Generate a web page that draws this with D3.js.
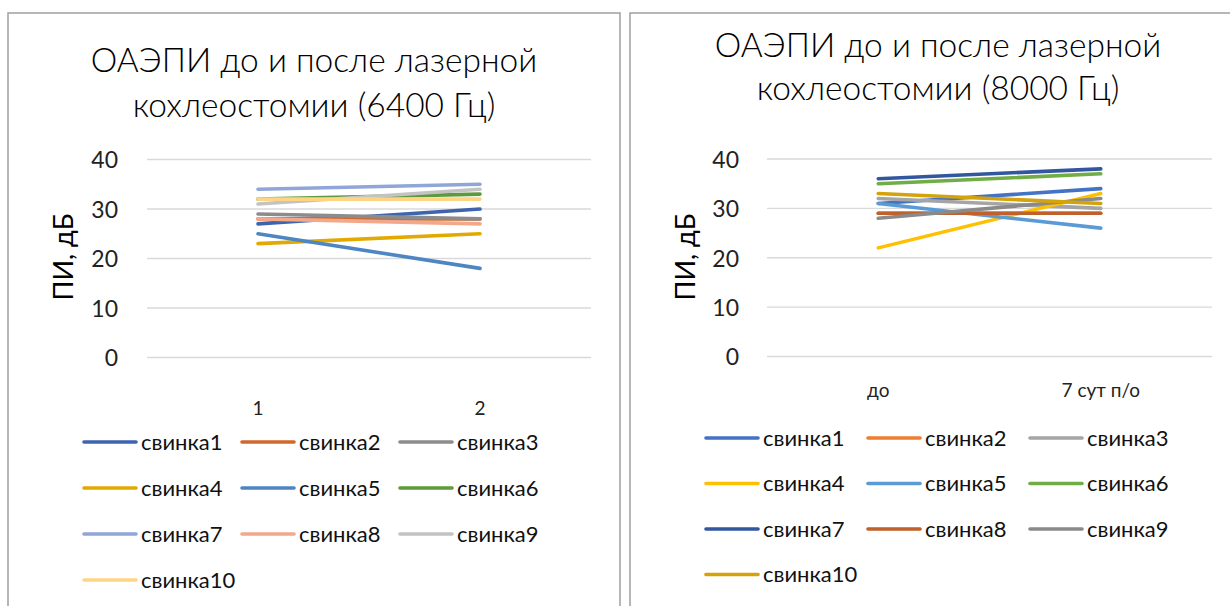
<!DOCTYPE html>
<html>
<head>
<meta charset="utf-8">
<script src="https://cdn.jsdelivr.net/npm/d3@7"></script>
<style>
  html, body { margin: 0; padding: 0; background: #fff; }
  svg { display: block; font-family: Lato, "Noto Sans", sans-serif; }
</style>
</head>
<body>
<svg id="chart" width="1230" height="606"></svg>
<script>
// Series names shared by both panels
const seriesNames = ["свинка1", "свинка2", "свинка3", "свинка4", "свинка5",
                     "свинка6", "свинка7", "свинка8", "свинка9", "свинка10"];

// 6400 Hz panel
const categories6400 = ["1", "2"];
const values6400 = [
  [27, 30], [28, 28], [29, 28], [23, 25], [25, 18],
  [32, 33], [34, 35], [28, 27], [31, 34], [32, 32]
];
const colors6400 = ["#3F64AE", "#D0692B", "#8C8C8C", "#E2AA00", "#4D86C2",
                    "#5E9A3A", "#91A6D8", "#F2A88A", "#C3C3C3", "#FFD584"];

// 8000 Hz panel
const categories8000 = ["до", "7 сут п/о"];
const values8000 = [
  [31, 34], [29, 29], [32, 30], [22, 33], [31, 26],
  [35, 37], [36, 38], [29, 29], [28, 32], [33, 31]
];
const colors8000 = ["#4472C4", "#ED7D31", "#A5A5A5", "#FFC000", "#5B9BD5",
                    "#70AD47", "#32579F", "#C0602A", "#8A8A8A", "#D4A20A"];

const yTicks = [0, 10, 20, 30, 40];

const svg = d3.select("#chart");

function drawPanel(cfg) {
  const g = svg.append("g");

  // frame
  g.append("path")
    .attr("d", `M${cfg.frame.x0},${cfg.frame.y1} V${cfg.frame.y0} H${cfg.frame.x1}` +
               (cfg.frame.rightEdge ? ` V${cfg.frame.y1}` : ""))
    .attr("fill", "none")
    .attr("stroke", "#A0A0A0")
    .attr("stroke-width", 1.5);

  // title
  const title = g.append("text")
    .attr("text-anchor", "middle")
    .attr("font-size", cfg.titleSize)
    .attr("font-weight", 300)
    .attr("fill", "#000");
  cfg.title.forEach((line, i) => {
    title.append("tspan")
      .attr("x", cfg.titleX)
      .attr("y", cfg.titleY + i * cfg.titleGap)
      .text(line);
  });

  const x = d3.scaleBand().domain(cfg.categories).range([cfg.plot.x0, cfg.plot.x1]);
  const y = d3.scaleLinear().domain([0, 40]).range([cfg.plot.y1, cfg.plot.y0]);

  // gridlines
  g.append("g")
    .selectAll("line")
    .data(yTicks)
    .join("line")
    .attr("x1", cfg.plot.x0).attr("x2", cfg.plot.x1)
    .attr("y1", d => y(d)).attr("y2", d => y(d))
    .attr("stroke", "#D9D9D9")
    .attr("stroke-width", 1.3);

  // y axis labels
  const yAxis = g.append("g")
    .attr("transform", `translate(${cfg.yLabelX},0)`)
    .call(d3.axisLeft(y).tickValues(yTicks).tickSize(0).tickPadding(0));
  yAxis.select(".domain").remove();
  yAxis.selectAll("text")
    .attr("font-size", 23)
    .attr("font-family", "Lato, sans-serif")
    .attr("fill", "#222")
    .attr("dy", "0.36em");

  // x axis labels
  const xAxis = g.append("g")
    .attr("transform", `translate(0,${cfg.xLabelY})`)
    .call(d3.axisBottom(x).tickSize(0).tickPadding(0));
  xAxis.select(".domain").remove();
  xAxis.selectAll("text")
    .attr("font-size", cfg.xLabelSize)
    .attr("font-family", "Lato, sans-serif")
    .attr("fill", "#222")
    .attr("dy", "0.36em");

  // axis title
  g.append("text")
    .attr("transform", `translate(${cfg.yTitleX},${cfg.yTitleY}) rotate(-90)`)
    .attr("text-anchor", "middle")
    .attr("dy", "0.36em")
    .attr("font-size", 27)
    .attr("fill", "#000")
    .text("ПИ, дБ");

  // series lines
  const line = d3.line()
    .x((d, i) => x(cfg.categories[i]) + x.bandwidth() / 2)
    .y(d => y(d));
  g.append("g")
    .selectAll("path")
    .data(cfg.values)
    .join("path")
    .attr("d", d => line(d))
    .attr("fill", "none")
    .attr("stroke", (d, i) => cfg.colors[i])
    .attr("stroke-width", 3.6)
    .attr("stroke-linecap", "round");

  // legend
  const leg = g.append("g");
  seriesNames.forEach((name, i) => {
    const col = i % 3, row = Math.floor(i / 3);
    const lx = cfg.legend.x + col * cfg.legend.colW;
    const ly = cfg.legend.y + row * cfg.legend.rowH;
    leg.append("line")
      .attr("x1", lx).attr("x2", lx + 52)
      .attr("y1", ly).attr("y2", ly)
      .attr("stroke", cfg.colors[i])
      .attr("stroke-width", 3.6)
      .attr("stroke-linecap", "round");
    leg.append("text")
      .attr("x", lx + 57)
      .attr("y", ly)
      .attr("dy", "0.36em")
      .attr("font-size", 22)
      .attr("fill", "#111")
      .text(name);
  });
}

drawPanel({
  frame: { x0: 8, x1: 620, y0: 13, y1: 620, rightEdge: true },
  title: ["ОАЭПИ до и после лазерной", "кохлеостомии (6400 Гц)"],
  titleX: 314, titleY: 72, titleGap: 45, titleSize: 33.5,
  categories: categories6400,
  values: values6400,
  colors: colors6400,
  plot: { x0: 147, x1: 591, y0: 159.5, y1: 357.5 },
  yLabelX: 118,
  xLabelY: 408, xLabelSize: 19,
  yTitleX: 63, yTitleY: 257,
  legend: { x: 84, y: 442, colW: 158, rowH: 46 }
});

drawPanel({
  frame: { x0: 630, x1: 1240, y0: 13, y1: 620, rightEdge: false },
  title: ["ОАЭПИ до и после лазерной", "кохлеостомии (8000 Гц)"],
  titleX: 938, titleY: 57, titleGap: 43, titleSize: 33.5,
  categories: categories8000,
  values: values8000,
  colors: colors8000,
  plot: { x0: 767, x1: 1212, y0: 159, y1: 356.5 },
  yLabelX: 739,
  xLabelY: 390, xLabelSize: 19,
  yTitleX: 685, yTitleY: 257,
  legend: { x: 706, y: 438, colW: 162, rowH: 45.5 }
});
</script>
</body>
</html>
